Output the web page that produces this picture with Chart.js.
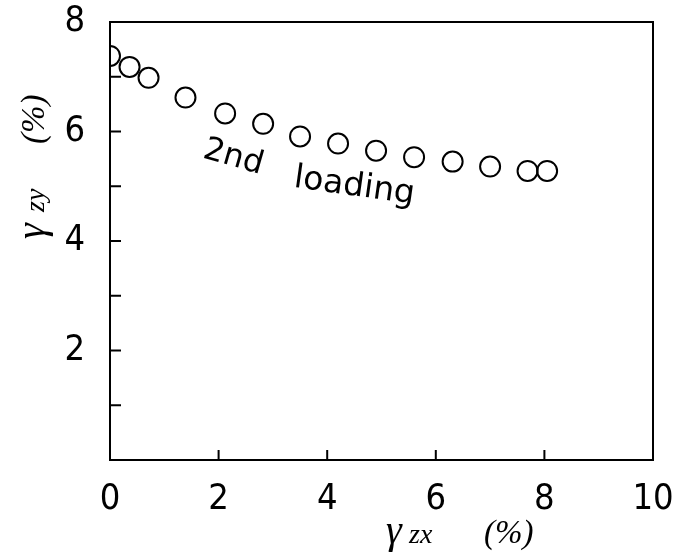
<!DOCTYPE html>
<html>
<head>
<meta charset="utf-8">
<script src="https://cdn.jsdelivr.net/npm/chart.js@4.4.1/dist/chart.umd.min.js"></script>
<style>
  html, body { margin: 0; padding: 0; background: #fff; }
  #wrap { width: 673px; height: 557px; }
</style>
</head>
<body>
<div id="wrap"><canvas id="chart"></canvas></div>
<script>
// gamma_zx (%) and gamma_zy (%) for the 2nd loading
var gammaZX = [0.0, 0.36, 0.71, 1.39, 2.12, 2.82, 3.50, 4.20, 4.90, 5.60, 6.31, 7.00, 7.69, 8.05];
var gammaZY = [7.38, 7.18, 6.98, 6.62, 6.33, 6.14, 5.91, 5.78, 5.65, 5.53, 5.45, 5.36, 5.28, 5.28];
var xTicks = [0, 2, 4, 6, 8, 10];
var yTicks = [2, 4, 6, 8];
var yMinor = [1, 2, 3, 4, 5, 6, 7];
var xMinor = [2, 4, 6, 8];

var tickFont = { family: "'Liberation Sans Narrow', 'DejaVu Sans Condensed', 'DejaVu Sans', sans-serif", size: 36 };
var serifIt = "'Liberation Serif', 'DejaVu Serif', serif";

// runs: [text, font, x offset]
function draw_runs(ctx, runs) {
    runs.forEach(function (r) {
        ctx.font = r[1];
        ctx.fillText(r[0], r[2], 0);
    });
}

function rotated_text(ctx, px, py, deg, text, font) {
    ctx.save();
    ctx.translate(px, py);
    ctx.rotate(deg * Math.PI / 180);
    ctx.font = font;
    ctx.fillText(text, 0, 0);
    ctx.restore();
}

const extras = {
    id: "extras",
    afterDraw(chart) {
        var ctx = chart.ctx;
        var a = chart.chartArea;
        var xs = chart.scales.x, ys = chart.scales.y;
        ctx.save();
        ctx.strokeStyle = "#000";
        ctx.lineWidth = 2;
        // frame
        ctx.strokeRect(a.left, a.top, a.right - a.left, a.bottom - a.top);
        // inward ticks
        ctx.beginPath();
        xMinor.forEach(function (v) {
            var px = xs.getPixelForValue(v);
            ctx.moveTo(px, a.bottom);
            ctx.lineTo(px, a.bottom - 10);
        });
        yMinor.forEach(function (v) {
            var py = ys.getPixelForValue(v);
            ctx.moveTo(a.left, py);
            ctx.lineTo(a.left + 11, py);
        });
        ctx.stroke();

        ctx.fillStyle = "#000";
        ctx.textBaseline = "alphabetic";
        ctx.textAlign = "left";

        // curve label
        rotated_text(ctx, xs.getPixelForValue(1.69), ys.getPixelForValue(5.53), 16, "2nd", "32px 'DejaVu Sans', sans-serif");
        rotated_text(ctx, xs.getPixelForValue(3.37), ys.getPixelForValue(4.99), 8, "loading", "33px 'DejaVu Sans', sans-serif");

        // x axis title
        ctx.save();
        ctx.translate(386, 543);
        draw_runs(ctx, [["γ", "italic 40px " + serifIt, 0],
                        ["zx", "italic 28px " + serifIt, 23],
                        ["(%)", "italic 33px " + serifIt, 98]]);
        ctx.restore();

        // y axis title
        ctx.save();
        ctx.translate(44, 239);
        ctx.rotate(-Math.PI / 2);
        draw_runs(ctx, [["γ", "italic 40px " + serifIt, 0],
                        ["zy", "italic 28px " + serifIt, 27],
                        ["(%)", "italic 33px " + serifIt, 95]]);
        ctx.restore();
        ctx.restore();
    }
};

var cfg = {
    type: "scatter",
    data: {
        datasets: [{
            data: gammaZX.map(function (v, i) { return { x: v, y: gammaZY[i] }; }),
            pointStyle: "circle",
            pointRadius: 10,
            pointBorderWidth: 2,
            pointBorderColor: "#000",
            pointBackgroundColor: "rgba(255,255,255,0)",
            showLine: false
        }]
    },
    options: {
        responsive: true,
        maintainAspectRatio: false,
        animation: false,
        layout: { padding: { left: 0, right: 20, top: 22, bottom: 0 } },
        plugins: {
            legend: { display: false },
            tooltip: { enabled: false }
        },
        scales: {
            x: {
                type: "linear",
                min: 0,
                max: 10,
                afterFit: function (s) { s.height = 97; s.paddingLeft = 0; s.paddingRight = 0; },
                afterBuildTicks: function (s) { s.ticks = xTicks.map(function (v) { return { value: v }; }); },
                grid: { display: false },
                border: { display: false },
                ticks: { color: "#000", font: tickFont, padding: 10, maxRotation: 0 }
            },
            y: {
                type: "linear",
                min: 0,
                max: 8,
                afterFit: function (s) { s.width = 110; s.paddingTop = 0; s.paddingBottom = 0; },
                afterBuildTicks: function (s) { s.ticks = yTicks.map(function (v) { return { value: v }; }); },
                grid: { display: false },
                border: { display: false },
                ticks: { color: "#000", font: tickFont, padding: 17 }
            }
        }
    },
    plugins: [extras]
};

var chart = new Chart(document.getElementById("chart").getContext("2d"), cfg);
</script>
</body>
</html>
